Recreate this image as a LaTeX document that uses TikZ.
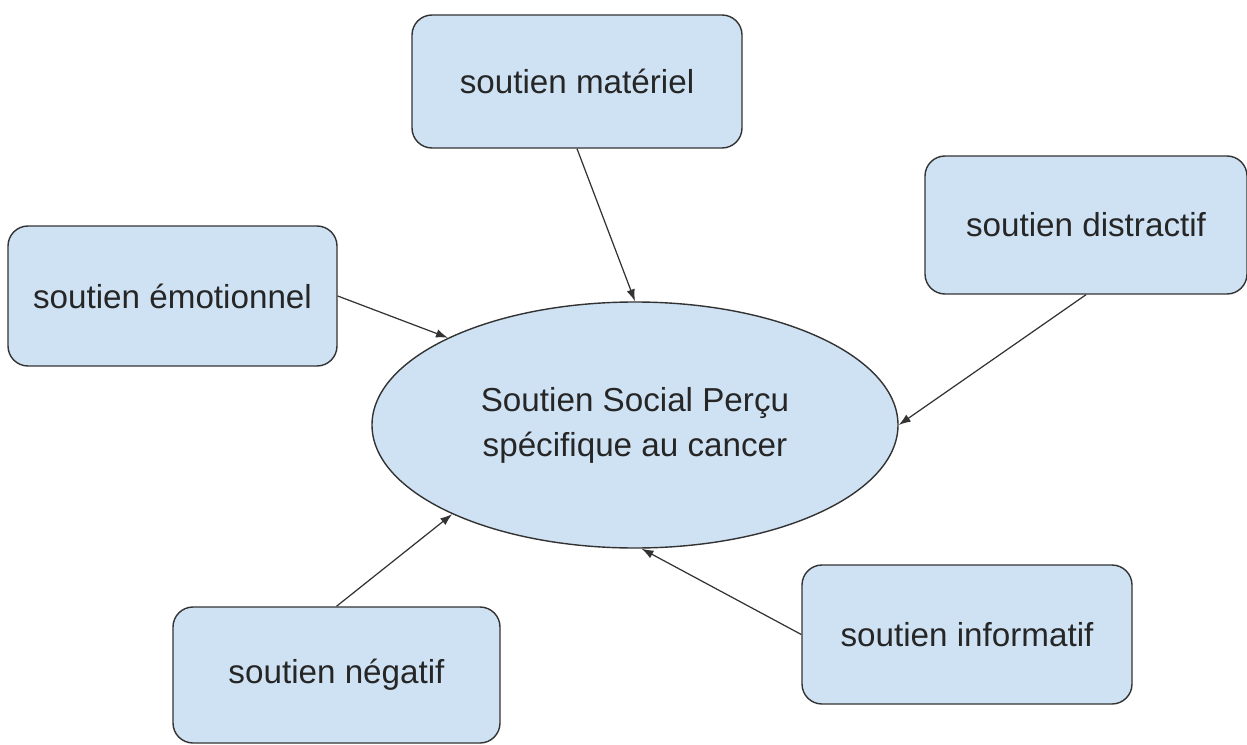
\documentclass[tikz,border=0pt]{standalone}
\usepackage{fontspec}
\setmainfont{Liberation Sans}
\usetikzlibrary{shapes.geometric,arrows.meta}
\definecolor{boxblue}{HTML}{CFE2F3}
\definecolor{edgegray}{HTML}{333333}
\tikzset{
  suppbox/.style={draw=edgegray,fill=boxblue,rounded corners=0.4cm,line width=0.8pt,
    inner sep=0pt,text=black!85,font=\fontsize{18.9}{25.6}\selectfont},
}

\begin{document}
\begin{tikzpicture}[-{Latex[length=0.24cm,width=0.17cm]},line width=0.7pt]
  \useasboundingbox (0,0) rectangle (24.94,14.88);

  \node[suppbox,ellipse,minimum width=10.52cm,minimum height=4.92cm,align=center] (ssp) at (12.7,6.38) {Soutien Social Perçu\\spécifique au cancer};

  \node[suppbox,minimum width=6.6cm,minimum height=2.66cm] (mat) at (11.54,13.25) {soutien matériel};
  \node[suppbox,minimum width=6.44cm,minimum height=2.76cm] (dist) at (21.72,10.38) {soutien distractif};
  \node[suppbox,minimum width=6.58cm,minimum height=2.8cm] (emo) at (3.45,8.96) {soutien émotionnel};
  \node[suppbox,minimum width=6.54cm,minimum height=2.72cm] (neg) at (6.73,1.38) {soutien négatif};
  \node[suppbox,minimum width=6.6cm,minimum height=2.78cm] (info) at (19.34,2.19) {soutien informatif};

  \foreach \from/\to in {mat.south/ssp.north,emo.east/ssp.155,dist.south/ssp.east,neg.north/ssp.206,info.west/ssp.273}
    \draw[edgegray] (\from) -- (\to);

\end{tikzpicture}
\end{document}
